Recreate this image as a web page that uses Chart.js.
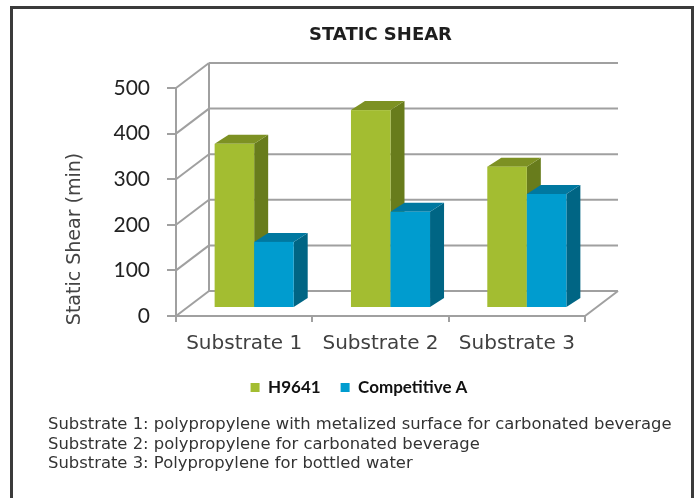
<!DOCTYPE html>
<html lang="en">
<head>
<meta charset="UTF-8">
<title>Static Shear</title>
<style>
  html, body { margin: 0; padding: 0; background: #fff; }
  #shearChart { display: block; }
</style>
</head>
<body>
<canvas id="shearChart" width="697" height="498"></canvas>

<script src="https://cdn.jsdelivr.net/npm/chart.js"></script>
<script>
// data
const substrates = ['Substrate 1', 'Substrate 2', 'Substrate 3'];
const h9641 = [360, 434, 310];
const competitiveA = [145, 211, 250];
const yTicks = [0, 100, 200, 300, 400, 500];
const seriesNames = ['H9641', 'Competitive A'];
const notes = [
    'Substrate 1: polypropylene with metalized surface for carbonated beverage',
    'Substrate 2: polypropylene for carbonated beverage',
    'Substrate 3: Polypropylene for bottled water'
];

// 3d look
const WALL_DX = 33, WALL_DY = -25;   // back wall offset from the front axis plane
const BAR_OX = 10, BAR_OY = -8;      // bars stand a bit behind the front edge
const BAR_DX = 14, BAR_DY = -9;      // bar depth
const faceColors = [
    {front: '#a3bd31', side: '#687c1c', top: '#7d9123'},
    {front: '#009ccf', side: '#006584', top: '#0078a0'}
];
const gridColor = '#a0a0a0';

function line(ctx, x1, y1, x2, y2) {
    ctx.beginPath();
    ctx.moveTo(x1, y1);
    ctx.lineTo(x2, y2);
    ctx.stroke();
}

function poly(ctx, pts, color) {
    ctx.beginPath();
    ctx.moveTo(pts[0][0], pts[0][1]);
    for (let i = 1; i < pts.length; i++) ctx.lineTo(pts[i][0], pts[i][1]);
    ctx.closePath();
    ctx.fillStyle = color;
    ctx.fill();
}

const box3d = {
    id: 'box3d',
    afterLayout(chart) {
        // legend sits a little left of the plot centre in the original
        chart.legend.left += 74;
    },
    beforeDatasetsDraw(chart) {
        const ctx = chart.ctx;
        const {left, right} = chart.chartArea;
        const ys = chart.scales.y;
        const y0 = ys.getPixelForValue(yTicks[0]);
        const yTop = ys.getPixelForValue(yTicks[yTicks.length - 1]);

        ctx.save();
        ctx.strokeStyle = gridColor;
        ctx.lineWidth = 2;
        // side wall diagonals + back wall grid lines
        yTicks.forEach(v => {
            const py = ys.getPixelForValue(v);
            line(ctx, left, py, left + WALL_DX, py + WALL_DY);
            line(ctx, left + WALL_DX, py + WALL_DY, right + WALL_DX, py + WALL_DY);
        });
        line(ctx, left + WALL_DX, y0 + WALL_DY, left + WALL_DX, yTop + WALL_DY);
        line(ctx, right, y0, right + WALL_DX, y0 + WALL_DY);

        // bars, category by category so the front ones cover the side faces
        const metas = chart.data.datasets.map((d, i) => chart.getDatasetMeta(i));
        for (let j = 0; j < substrates.length; j++) {
            metas.forEach((meta, i) => {
                const p = meta.data[j].getProps(['x', 'y', 'base', 'width'], true);
                const c = faceColors[i];
                const x0 = p.x - p.width / 2 + BAR_OX;
                const x1 = p.x + p.width / 2 + BAR_OX;
                const yt = p.y + BAR_OY;
                const yb = p.base + BAR_OY;
                poly(ctx, [[x1, yt], [x1 + BAR_DX, yt + BAR_DY], [x1 + BAR_DX, yb + BAR_DY], [x1, yb]], c.side);
                poly(ctx, [[x0, yt], [x0 + BAR_DX, yt + BAR_DY], [x1 + BAR_DX, yt + BAR_DY], [x1, yt]], c.top);
                ctx.fillStyle = c.front;
                ctx.fillRect(x0, yt, x1 - x0, yb - yt);
            });
        }
        ctx.restore();
        return false;
    },
    afterDraw(chart) {
        const ctx = chart.ctx;
        ctx.save();
        // y axis title
        ctx.translate(75, 239);
        ctx.rotate(-Math.PI / 2);
        ctx.font = '19px "DejaVu Sans"';
        ctx.fillStyle = '#444';
        ctx.textAlign = 'center';
        ctx.textBaseline = 'middle';
        ctx.fillText('Static Shear (min)', 0, 0);
        ctx.restore();

        ctx.save();
        ctx.font = '16.4px "DejaVu Sans"';
        ctx.fillStyle = '#333';
        ctx.textBaseline = 'alphabetic';
        notes.forEach((t, i) => ctx.fillText(t, 48, 429 + i * 19.5));

        ctx.strokeStyle = '#3b3b3b';
        ctx.lineWidth = 3;
        ctx.strokeRect(11.5, 7.5, 681, 500);
        ctx.restore();
    }
};

new Chart(document.getElementById('shearChart').getContext('2d'), {
    type: 'bar',
    data: {
        labels: substrates,
        datasets: [
            {label: seriesNames[0], data: h9641, backgroundColor: faceColors[0].front, borderWidth: 0},
            {label: seriesNames[1], data: competitiveA, backgroundColor: faceColors[1].front, borderWidth: 0}
        ]
    },
    options: {
        responsive: false,
        animation: false,
        events: [],
        categoryPercentage: 0.58,
        barPercentage: 1,
        layout: {padding: {left: 59, right: 112, top: 0, bottom: 92}},
        plugins: {
            title: {
                display: true,
                text: 'STATIC SHEAR',
                fullSize: false,
                color: '#1e1e1e',
                font: {family: '"DejaVu Sans"', size: 18, weight: 'bold', lineHeight: 1.2},
                padding: {top: 25, bottom: 41.4}
            },
            legend: {
                position: 'bottom',
                labels: {
                    boxWidth: 9,
                    boxHeight: 9,
                    padding: 20,
                    color: '#111',
                    font: {family: 'Lato', size: 17, weight: 'bold'}
                }
            },
            tooltip: {enabled: false}
        },
        scales: {
            x: {
                afterFit(scale) { scale.height = 43; },
                grid: {offset: true, drawOnChartArea: false, tickLength: 6, color: gridColor, lineWidth: 2},
                border: {color: gridColor, width: 2},
                ticks: {color: '#404040', padding: 10, font: {family: '"DejaVu Sans"', size: 20}}
            },
            y: {
                min: yTicks[0],
                max: yTicks[yTicks.length - 1],
                afterFit(scale) { scale.width = 117; },
                afterBuildTicks(scale) { scale.ticks = yTicks.map(v => ({value: v})); },
                grid: {drawOnChartArea: false, tickLength: 9, color: gridColor, lineWidth: 2},
                border: {color: gridColor, width: 2},
                ticks: {color: '#222', padding: 17, font: {family: 'Lato', size: 21}}
            }
        }
    },
    plugins: [box3d]
});
</script>
</body>
</html>
